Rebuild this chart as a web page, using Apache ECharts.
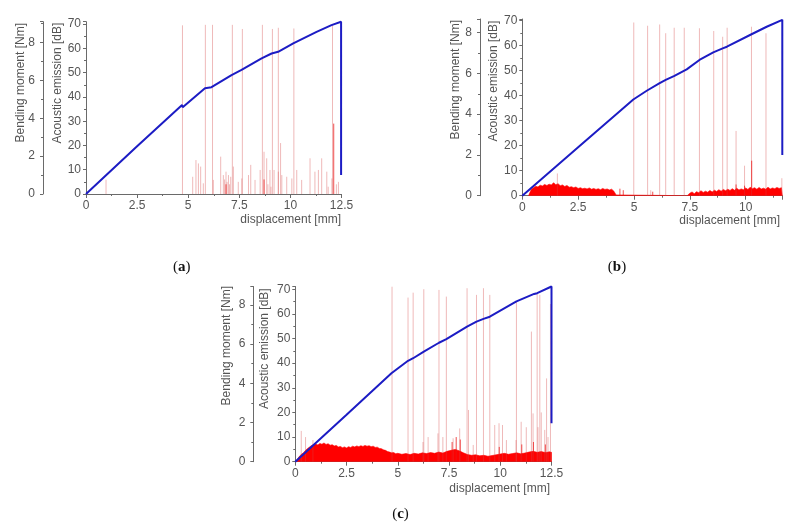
<!DOCTYPE html>
<html><head><meta charset="utf-8">
<script src="https://cdn.jsdelivr.net/npm/echarts@6/dist/echarts.min.js"></script>
<style>html,body{margin:0;padding:0;background:#fff}#c{width:799px;height:524px}</style>
</head><body><div id="c"></div>
<script>
// ---------- DATA ----------
const xTicks = [0, 2.5, 5, 7.5, 10, 12.5];
const dbTicks = [0, 10, 20, 30, 40, 50, 60, 70];
const nmTicks = [0, 2, 4, 6, 8];
const panelLabels = ['a', 'b', 'c'];
const xName = 'displacement [mm]';
const dbName = 'Acoustic emission [dB]';
const nmName = 'Bending moment [Nm]';

// (a) bending moment [mm, Nm]
const aMoment = [[0,0],[2.5,2.52],[4.70,4.70],[4.73,4.58],[5.82,5.59],[5.86,5.50],[6.14,5.64],[6.18,5.58],[7.12,6.28],[7.16,6.20],[7.61,6.55],[7.65,6.48],[8.59,7.16],[8.63,7.10],[9.08,7.42],[9.12,7.36],[9.40,7.51],[9.44,7.46],[10.14,7.95],[10.18,7.90],[11.28,8.56],[12.01,8.92],[12.05,8.88],[12.48,9.10],[12.48,1.01]];
// (a) acoustic emission hits [mm, dB]
const aSpikes = [[4.72,69.5],[5.84,69.7],[6.19,69.7],[7.16,69.7],[7.65,68],[8.63,69.7],[9.12,68],[9.41,68.5],[10.17,68.2],[12.06,69.7],
  [0.98,5.9],[5.22,7.1],[5.38,14],[5.5,12.6],[5.61,11.3],[5.74,4.4],[6.23,5.8],[6.59,15.4],[6.72,7.8],[6.78,6],[6.85,9.2],[6.9,5],[6.97,7.8],[7.02,4],[7.08,7.1],[7.21,11.3],[7.45,5],[7.62,6.4],[7.95,7.8],[8.06,12],[8.27,5.8],[8.52,9.9],[8.71,17.4],[8.84,14.7],[8.9,4],[9.0,9.9],[9.05,3],[9.2,9.9],[9.41,9.2],[9.52,21],[9.58,7.8],[9.82,7.1],[10.07,6.4],[10.31,9.9],[10.55,5.8],[10.96,14.7],[11.2,9.2],[11.37,9.9],[11.53,14.7],[11.78,9.2],[11.85,3],[12.03,6.4],[12.25,4],[12.35,5]];
const aStrong = [[12.12,29],[8.71,6],[6.85,4]];

// (b)
const bMoment = [[0,0],[2.5,2.38],[4.97,4.72],[5.0,4.65],[5.57,5.15],[5.61,5.10],[6.13,5.51],[6.17,5.46],[6.42,5.68],[6.81,5.88],[6.85,5.83],[7.36,6.20],[7.93,6.66],[8.55,7.03],[8.59,6.98],[8.97,7.23],[9.16,7.31],[9.20,7.26],[10.24,7.91],[10.28,7.87],[10.94,8.29],[11.64,8.63],[11.64,2.0]];
const bSpikes = [[4.99,69.3],[5.61,68],[6.15,68.5],[6.42,65],[6.8,67.2],[7.25,67.2],[7.93,67],[8.57,65.9],[8.97,63.6],[9.17,67.2],[9.57,25.9],[9.95,12],[10.26,67.6],[10.91,65],[11.62,7],[1.57,8.9],[5.75,2.2]];
const bStrong = [[10.27,14],[4.37,2.8],[4.52,2.2],[5.84,1.6],[9.57,4.5],[9.95,4]];
const bBand = [[0.28,0],[0.3,0.5],[0.4,2.5],[0.5,3.2],[0.6,3.8],[0.7,3.5],[0.8,4.2],[0.9,3.9],[1.0,4.5],[1.1,4.1],[1.2,4.6],[1.3,4.3],[1.4,5.2],[1.5,4.4],[1.6,4.8],[1.7,4.0],[1.8,4.3],[1.9,3.7],[2.0,4.1],[2.1,3.4],[2.2,3.6],[2.3,3.2],[2.4,3.5],[2.5,2.9],[2.6,3.2],[2.7,2.8],[2.8,3.0],[2.9,2.7],[3.0,3.1],[3.1,2.6],[3.2,2.9],[3.3,2.5],[3.4,2.8],[3.5,2.4],[3.6,2.9],[3.7,2.5],[3.8,2.7],[3.9,2.3],[4.0,2.6],[4.1,1.8],[4.2,0.3],[4.22,0],
  [7.38,0],[7.4,0.3],[7.5,1.0],[7.6,1.5],[7.7,0.8],[7.8,1.6],[7.9,1.2],[8.0,2.0],[8.1,1.3],[8.2,1.8],[8.3,1.4],[8.4,2.1],[8.5,1.5],[8.6,2.2],[8.7,1.7],[8.8,2.4],[8.9,1.8],[9.0,2.5],[9.1,2.0],[9.2,2.6],[9.3,2.1],[9.4,2.8],[9.5,2.2],[9.6,3.0],[9.7,2.3],[9.8,2.7],[9.9,2.4],[10.0,3.1],[10.1,2.5],[10.2,3.4],[10.3,2.8],[10.4,3.2],[10.5,2.6],[10.6,3.3],[10.7,2.7],[10.8,3.0],[10.9,2.6],[11.0,3.4],[11.1,2.7],[11.2,3.1],[11.3,2.8],[11.4,3.3],[11.5,2.9],[11.6,3.2],[11.64,3.0],[11.64,0]];

// (c)
const cMoment = [[0,0],[2.5,2.40],[4.69,4.51],[4.74,4.43],[5.50,5.15],[5.54,5.08],[5.75,5.28],[6.27,5.62],[6.31,5.55],[7.01,6.07],[7.05,6.00],[7.37,6.25],[8.38,6.89],[8.84,7.15],[8.88,7.10],[9.18,7.29],[9.49,7.40],[10.79,8.18],[11.65,8.56],[11.80,8.60],[12.5,8.94],[12.5,1.96]];
const cSpikes = [[4.72,71],[5.5,66.6],[5.75,68.6],[6.27,70],[7.01,69.7],[7.37,67],[8.38,70.4],[8.84,67.7],[9.18,70.4],[9.49,67.7],[10.79,65],[11.52,52.8],[11.8,68.4],[11.93,67.7],[12.26,33.8],[12.45,64],
  [0.29,12.5],[0.5,10],[0.86,8.8],[6.23,8],[6.48,10],[6.96,11.5],[7.2,10],[7.7,9.5],[8.02,13.5],[8.45,21],[8.68,6.8],[9.73,14.9],[9.94,15.6],[10.11,14.9],[10.3,8.8],[10.77,8.8],[11.02,16.2],[11.27,14],[11.6,19.6],[11.84,14],[12.0,20],[12.17,12.9],[12.33,10]];
const cStrong = [[7.85,10],[8.05,9],[7.65,8],[11.62,8],[12.2,7],[9.95,6],[11.05,7]];
const cBand = [[0.05,0],[0.1,1.0],[0.2,2.2],[0.3,3.0],[0.4,3.6],[0.5,4.6],[0.6,5.4],[0.7,6.0],[0.8,6.6],[0.9,6.9],[1.0,7.2],[1.1,6.8],[1.2,7.4],[1.3,7.1],[1.4,7.6],[1.5,7.0],[1.6,7.3],[1.7,6.7],[1.8,6.9],[1.9,6.4],[2.0,6.6],[2.1,6.0],[2.2,6.2],[2.3,5.7],[2.4,6.0],[2.5,5.6],[2.6,6.1],[2.7,5.8],[2.8,6.3],[2.9,6.0],[3.0,6.4],[3.1,6.1],[3.2,6.5],[3.3,6.2],[3.4,6.6],[3.5,6.3],[3.6,6.5],[3.7,6.1],[3.8,6.3],[3.9,5.8],[4.0,5.9],[4.1,5.4],[4.2,5.3],[4.3,4.8],[4.4,4.6],[4.5,4.1],[4.6,3.9],[4.7,3.6],[4.8,3.7],[4.9,3.2],[5.0,3.4],
  [5.2,3.0],[5.4,3.3],[5.6,2.9],[5.8,3.4],[6.0,3.1],[6.2,3.6],[6.4,3.3],[6.6,3.7],[6.8,3.4],[7.0,3.9],[7.2,3.5],[7.4,4.2],[7.6,4.6],[7.8,5.0],[8.0,4.4],[8.2,3.6],[8.4,2.9],[8.6,2.6],[8.8,2.8],[9.0,2.4],[9.2,2.6],[9.4,2.2],[9.6,2.5],[9.8,2.8],[10.0,3.1],[10.2,3.4],[10.4,3.0],[10.6,3.3],[10.8,3.6],[11.0,3.2],[11.2,3.5],[11.4,3.9],[11.6,4.2],[11.8,3.8],[12.0,4.1],[12.2,3.7],[12.4,4.0],[12.5,3.8],[12.5,0]];

// ---------- CHART ----------
const FONT = 'Liberation Sans, Arial, sans-serif';
const GRAY = '#555';
const AXIS = '#6a6a6a';
const panels = [
  {grid:{left:86, top:21.7, width:255.5, height:172.3}, xMax:12.5, dbMax:71, nmMax:9.1, nmOffset:43,
   moment:aMoment, spikes:aSpikes, strong:aStrong, band:null,
   nmName:[21,23], dbName:[58,22.7], xName:[341,220], label:[181.7,266.7]},
  {grid:{left:522.3, top:19, width:260, height:176.7}, xMax:11.64, dbMax:70.7, nmMax:8.67, nmOffset:42.3,
   moment:bMoment, spikes:bSpikes, strong:bStrong, band:bBand,
   nmName:[456,20], dbName:[494,20.7], xName:[780,220.7], label:[617,266.7]},
  {grid:{left:295.3, top:286.5, width:256.2, height:175.2}, xMax:12.5, dbMax:71.1, nmMax:8.94, nmOffset:42,
   moment:cMoment, spikes:cSpikes, strong:cStrong, band:cBand,
   nmName:[226.5,286], dbName:[265,288.3], xName:[550,488.3], label:[400.5,514.5]}
];

function spikeSeries(data, xi, yi, color, z) {
  return {
    type:'custom', xAxisIndex:xi, yAxisIndex:yi, z:z, silent:true,
    data:data,
    renderItem:function(params, api){
      const x = api.value(0), h = api.value(1);
      const p0 = api.coord([x, 0]), p1 = api.coord([x, h]);
      return {type:'line', shape:{x1:p0[0], y1:p0[1], x2:p1[0], y2:p1[1]}, style:{stroke:color, lineWidth:1}};
    }
  };
}

const grids = [], xAxes = [], yAxes = [], series = [], graphics = [];
panels.forEach((p, i) => {
  grids.push(p.grid);
  xAxes.push({
    type:'value', gridIndex:i, min:0, max:p.xMax, interval:2.5,
    axisLine:{lineStyle:{color:AXIS, width:1}},
    axisTick:{show:true, length:4, lineStyle:{color:AXIS}},
    minorTick:{show:true, splitNumber:2, length:2, lineStyle:{color:AXIS}},
    axisLabel:{color:GRAY, fontSize:12, fontFamily:FONT, margin:6, showMaxLabel:p.xMax === xTicks[xTicks.length-1],
      formatter:v => xTicks.indexOf(v) >= 0 ? String(v) : ''},
    splitLine:{show:false}
  });
  const dbIdx = yAxes.length;
  yAxes.push({
    type:'value', gridIndex:i, position:'left', min:0, max:p.dbMax, interval:10,
    axisLine:{show:true, lineStyle:{color:AXIS, width:1}},
    axisTick:{show:true, length:3, lineStyle:{color:AXIS}},
    minorTick:{show:true, splitNumber:2, length:2, lineStyle:{color:AXIS}},
    axisLabel:{color:GRAY, fontSize:12, fontFamily:FONT, margin:5, showMaxLabel:false,
      formatter:v => dbTicks.indexOf(v) >= 0 ? String(v) : ''},
    splitLine:{show:false}
  });
  const nmIdx = yAxes.length;
  yAxes.push({
    type:'value', gridIndex:i, position:'left', offset:p.nmOffset, min:0, max:p.nmMax, interval:2,
    axisLine:{show:true, lineStyle:{color:AXIS, width:1}},
    axisTick:{show:true, length:3, lineStyle:{color:AXIS}},
    minorTick:{show:true, splitNumber:2, length:2, lineStyle:{color:AXIS}},
    axisLabel:{color:GRAY, fontSize:12, fontFamily:FONT, margin:8, showMaxLabel:false,
      formatter:v => nmTicks.indexOf(v) >= 0 ? String(v) : ''},
    splitLine:{show:false}
  });
  if (p.band) {
    series.push({type:'line', xAxisIndex:i, yAxisIndex:dbIdx, data:p.band, symbol:'none', silent:true, z:1,
      lineStyle:{width:0.6, color:'#ff0000'}, areaStyle:{color:'#ff0000', opacity:1}, connectNulls:false});
  }
  series.push(spikeSeries(p.spikes, i, dbIdx, 'rgba(214,70,70,0.38)', 2));
  series.push(spikeSeries(p.strong, i, dbIdx, 'rgba(235,20,20,0.75)', 3));
  series.push({type:'line', xAxisIndex:i, yAxisIndex:nmIdx, data:p.moment, symbol:'none', silent:true, z:5,
    lineStyle:{width:2, color:'#1c1cc4'}, clip:false});

  graphics.push({type:'text', x:p.nmName[0], y:p.nmName[1], rotation:Math.PI/2,
    style:{text:nmName, fill:GRAY, font:'12px ' + FONT, align:'right', verticalAlign:'middle'}});
  graphics.push({type:'text', x:p.dbName[0], y:p.dbName[1], rotation:Math.PI/2,
    style:{text:dbName, fill:GRAY, font:'12px ' + FONT, align:'right', verticalAlign:'middle'}});
  graphics.push({type:'text', x:p.xName[0], y:p.xName[1],
    style:{text:xName, fill:GRAY, font:'12px ' + FONT, align:'right', verticalAlign:'middle'}});
  graphics.push({type:'text', x:p.label[0], y:p.label[1],
    style:{text:'{p|(}{b|' + panelLabels[i] + '}{p|)}', align:'center', verticalAlign:'middle', fill:'#111',
      rich:{p:{fontFamily:'Liberation Serif, serif', fontSize:15, fill:'#111'}, b:{fontFamily:'Liberation Serif, serif', fontSize:15, fontWeight:'bold', fill:'#111'}}}});
});

const chart = echarts.init(document.getElementById('c'), null, {renderer:'canvas'});
chart.setOption({
  animation:false,
  backgroundColor:'#fff',
  textStyle:{fontFamily:FONT},
  grid:grids, xAxis:xAxes, yAxis:yAxes, series:series, graphic:graphics
});
</script></body></html>
